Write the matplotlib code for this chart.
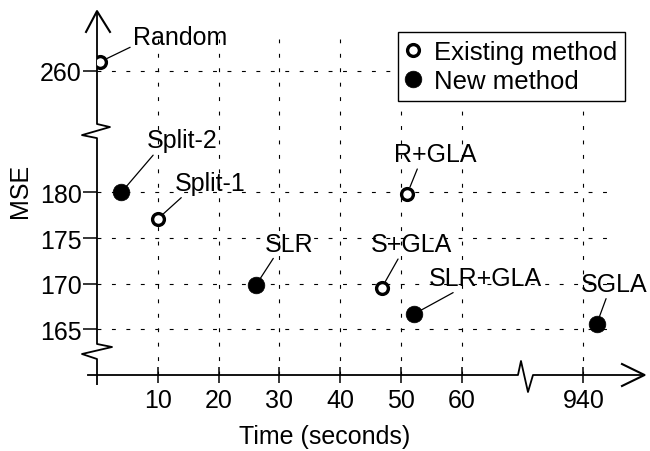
import numpy as np
import matplotlib
matplotlib.use('Agg')
import matplotlib.pyplot as plt

plt.rcParams['font.family'] = ['Liberation Sans', 'DejaVu Sans']

# data
methods = ['Random', 'Split-2', 'Split-1', 'SLR', 'R+GLA', 'S+GLA', 'SLR+GLA', 'SGLA']
times = [0.5, 4.0, 10.0, 26.2, 51.0, 46.8, 52.2, 942.2]          # seconds
mse = [261.0, 180.0, 177.1, 169.9, 179.8, 169.5, 166.7, 165.6]
is_new = [False, True, False, True, False, False, True, True]

x_ticks = [10, 20, 30, 40, 50, 60, 940]
y_ticks = [165, 170, 175, 180, 260]

# label placement: text offset from point (pixels) and leader attach point on text
label_offsets = [(80, 18), (61, 45), (52, 29), (33, 34), (28, 33), (30, 37), (71, 29), (17, 33)]
label_relpos = [(0.0, 0.12), (0.15, 0.1), (0.14, 0.0), (0.24, 0.1),
                (0.31, 0.1), (0.37, 0.1), (0.26, 0.0), (0.4, 0.0)]


# broken axes done with function scales
def x_fwd(t):
    t = np.asarray(t, dtype=float)
    return np.where(t <= 70, t, np.where(t < 935, 70 + (t - 70) * 5 / 865, t - 860))


def x_inv(d):
    d = np.asarray(d, dtype=float)
    return np.where(d <= 70, d, np.where(d < 75, 70 + (d - 70) * 173, d + 860))


def y_fwd(m):
    m = np.asarray(m, dtype=float)
    return np.where(m <= 182, m, np.where(m < 258, 182 + (m - 182) * 9.3 / 76, m - 66.7))


def y_inv(d):
    d = np.asarray(d, dtype=float)
    return np.where(d <= 182, d, np.where(d < 191.3, 182 + (d - 182) * 76 / 9.3, d + 66.7))


fig = plt.figure(figsize=(6.5, 4.52), dpi=100)
ax = fig.add_axes([97 / 650, 76 / 452, 518 / 650, 336 / 452])
ax.set_xscale('function', functions=(x_fwd, x_inv))
ax.set_yscale('function', functions=(y_fwd, y_inv))
ax.set_xlim(0, 945.2)
ax.set_ylim(160, 263.5)

t = np.array(times)
m = np.array(mse)
new = np.array(is_new)
ax.plot(t[~new], m[~new], 'o', mfc='white', mec='k', ms=8.5, mew=2.4,
        ls='none', label='Existing method', zorder=4)
ax.plot(t[new], m[new], 'o', mfc='k', mec='k', ms=12, mew=0.5,
        ls='none', label='New method', zorder=4)

for name, x, y, off, rp in zip(methods, times, mse, label_offsets, label_relpos):
    ax.annotate(name, xy=(x, y), xytext=off, textcoords='offset pixels',
                ha='center', va='baseline', fontsize=18,
                arrowprops=dict(arrowstyle='-', lw=0.9, color='k', relpos=rp,
                                shrinkA=0, shrinkB=5.5))

ax.set_xticks(x_ticks)
ax.set_xticklabels([str(v) for v in x_ticks])
ax.set_yticks(y_ticks)
ax.set_yticklabels([str(v) for v in y_ticks])
ax.minorticks_off()
ax.tick_params(axis='x', direction='inout', length=12, width=1.1, pad=3.5, labelsize=18)
ax.tick_params(axis='y', direction='out', length=10, width=1.1, pad=1, labelsize=18)

ax.grid(True, color='k', lw=0.8, linestyle=(0, (3.5, 9.5)))
ax.set_axisbelow(True)
for s in ax.spines.values():
    s.set_visible(False)

# axis lines with break marks and arrow heads
tr = ax.transAxes
yax_x = [0, 0, -0.029, 0.029, 0, 0, -0.029, 0.025, 0, 0]
yax_y = [-0.027, 0.0476, 0.0625, 0.0833, 0.0923, 0.705, 0.714, 0.738, 0.747, 1.08]
ax.plot(yax_x, yax_y, color='k', lw=1.3, transform=tr, clip_on=False)
ax.plot([-0.0212, 0, 0.0251], [1.021, 1.083, 1.021], color='k', lw=1.5,
        transform=tr, clip_on=False)
xax_x = [-0.0174, 0.8127, 0.8185, 0.832, 0.8417, 1.055]
xax_y = [0, 0, 0.0417, -0.0506, 0, 0]
ax.plot(xax_x, xax_y, color='k', lw=1.3, transform=tr, clip_on=False)
ax.plot([1.0135, 1.057, 1.0135], [0.0327, 0, -0.0327], color='k', lw=1.5,
        transform=tr, clip_on=False)

ax.set_xlabel('Time (seconds)', fontsize=18)
ax.xaxis.set_label_coords(0.44, -0.146)
ax.set_ylabel('MSE', fontsize=18)
ax.yaxis.set_label_coords(-0.125, 0.551)

leg = ax.legend(loc='upper right', bbox_to_anchor=(1.019, 1.021), fontsize=18.5,
                frameon=True, fancybox=False, edgecolor='k', framealpha=1,
                handlelength=0.6, handletextpad=0.5, labelspacing=0.22,
                borderpad=0.3, borderaxespad=0)
leg.get_frame().set_linewidth(1.0)
leg.set_zorder(5)

fig.savefig('out.png', dpi=100)
